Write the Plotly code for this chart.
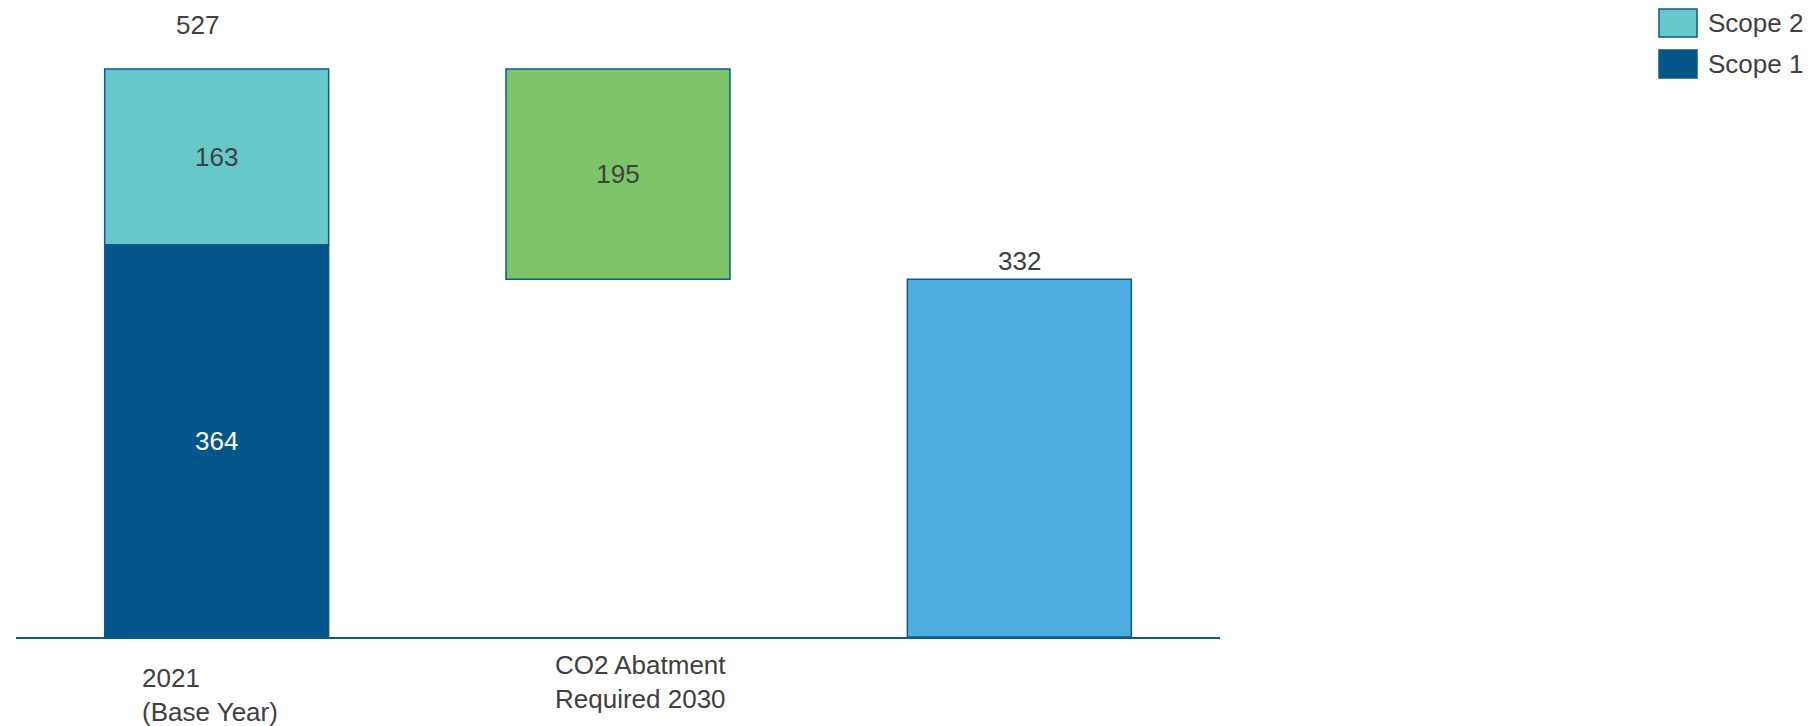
import plotly.graph_objects as go

# Emissions (kt CO2e)
scope1 = [364]
scope2 = [163]
abatement = [195]
target_2030 = [332]
category_labels = ["2021<br>(Base Year)", "CO2 Abatment<br>Required 2030"]
legend_labels = ["Scope 2", "Scope 1"]

total_2021 = scope1[0] + scope2[0]

C_SCOPE1 = "#04568A"
C_SCOPE2 = "#67C8CA"
C_ABATE = "#7DC468"
C_TARGET = "#4FADE0"
C_EDGE = "#0B5A8E"
C_TEXT = "#404040"
FONT = "Liberation Sans, Arial, sans-serif"
FS = 26

W, H = 1809, 726
M_L, M_R, M_T, M_B = 16, 589, 20, 89
PX_PER_UNIT = 568 / 527
y_top = (H - M_T - M_B) / PX_PER_UNIT
BAR_W = 0.558

fig = go.Figure()

bar_common = dict(width=BAR_W, marker_line=dict(color=C_EDGE, width=1.5),
                  textposition="inside", insidetextanchor="middle",
                  constraintext="none", hoverinfo="skip", showlegend=False)

fig.add_bar(x=[0], y=scope1, base=[0], marker_color=C_SCOPE1,
            text=[str(v) for v in scope1],
            textfont=dict(family=FONT, size=FS, color="white"), **bar_common)
fig.add_bar(x=[0], y=scope2, base=scope1, marker_color=C_SCOPE2,
            text=[str(v) for v in scope2],
            textfont=dict(family=FONT, size=FS, color=C_TEXT), **bar_common)
fig.add_bar(x=[1], y=abatement, base=target_2030, marker_color=C_ABATE,
            text=[str(v) for v in abatement],
            textfont=dict(family=FONT, size=FS, color=C_TEXT), **bar_common)
fig.add_bar(x=[2], y=target_2030, base=[0], marker_color=C_TARGET,
            **{k: v for k, v in bar_common.items() if k not in ("textposition", "insidetextanchor", "constraintext")})

font = dict(family=FONT, size=FS, color=C_TEXT)

# totals above bars
fig.add_annotation(x=0, y=total_2021, text=str(total_2021), showarrow=False,
                   yanchor="middle", yshift=44.5, xshift=-19, font=font)
fig.add_annotation(x=2, y=target_2030[0], text=str(target_2030[0]), showarrow=False,
                   yanchor="middle", yshift=18, font=font)

# category labels under the axis
fig.add_annotation(x=0, y=0, text=category_labels[0], showarrow=False,
                   xanchor="left", align="left", xshift=-77,
                   yanchor="middle", yshift=-58, font=font)
fig.add_annotation(x=1, y=0, text=category_labels[1], showarrow=False,
                   xanchor="center", align="center", xshift=22.5,
                   yanchor="middle", yshift=-44.5, font=font)

# legend: swatches and labels placed right of the plot area
legend_items = [
    (legend_labels[0], C_SCOPE2, 9, 37),
    (legend_labels[1], C_SCOPE1, 50, 78),
]
for label, color, top_px, bot_px in legend_items:
    fig.add_shape(type="rect", xref="paper", yref="paper",
                  xsizemode="pixel", ysizemode="pixel", xanchor=1, yanchor=1,
                  x0=439, x1=477, y0=M_T - bot_px, y1=M_T - top_px,
                  fillcolor=color, line=dict(color=C_EDGE, width=1.5))
    fig.add_annotation(xref="paper", yref="paper", x=1, y=1, xanchor="left",
                       yanchor="middle", xshift=486,
                       yshift=M_T - (top_px + bot_px) / 2,
                       text=label, showarrow=False, font=font)

fig.update_layout(
    width=W, height=H,
    margin=dict(l=M_L, r=M_R, t=M_T, b=M_B),
    barmode="overlay",
    plot_bgcolor="white", paper_bgcolor="white",
    xaxis=dict(range=[-0.5, 2.5], showticklabels=False, ticks="",
               showgrid=False, zeroline=False, showline=True,
               linecolor=C_EDGE, linewidth=2),
    yaxis=dict(range=[0, y_top], visible=False, showgrid=False, zeroline=False),
    font=dict(family=FONT),
)

fig.write_html("out.html")
